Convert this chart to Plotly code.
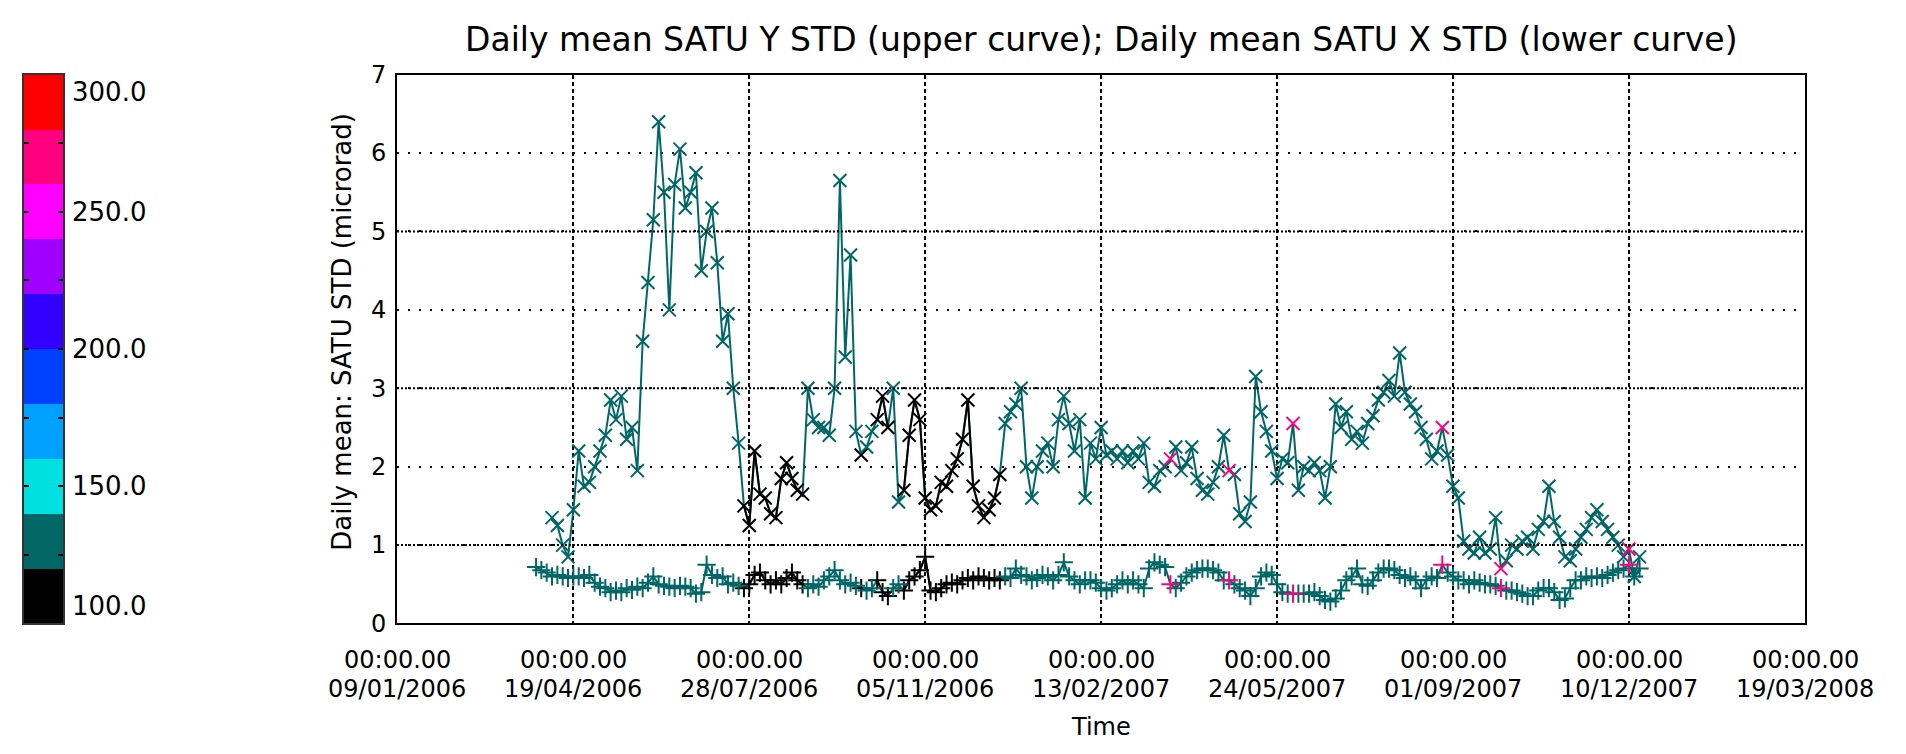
import pandas as pd
import plotly.graph_objects as go

# ---------------------------------------------------------------- data
# Daily mean STD of the SATU tilt signal, one value per sample date
first_sample = "2006-03-29"
last_sample = "2007-12-16"

satu_y_std = [
    None, None, None, 1.35, 1.25, 1.0, 0.85, 1.45, 2.2, 1.75,
    1.8, 2.0, 2.2, 2.4, 2.85, 2.6, 2.9, 2.35, 2.5, 1.95,
    3.6, 4.35, 5.15, 6.4, 5.5, 4.0, 5.6, 6.05, 5.3, 5.5,
    5.75, 4.5, 5.0, 5.3, 4.6, 3.6, 3.95, 3.0, 2.3, 1.5,
    1.25, 2.2, 1.65, 1.6, 1.4, 1.35, 1.85, 2.05, 1.85, 1.7,
    1.65, 3.0, 2.6, 2.5, 2.5, 2.4, 3.0, 5.65, 3.4, 4.7,
    2.45, 2.15, 2.25, 2.45, 2.6, 2.9, 2.5, 3.0, 1.55, 1.7,
    2.4, 2.85, 2.6, 1.6, 1.45, 1.5, 1.8, 1.75, 1.95, 2.1,
    2.35, 2.85, 1.75, 1.5, 1.35, 1.45, 1.6, 1.9, 2.55, 2.7,
    2.8, 3.0, 2.0, 1.6, 2.0, 2.2, 2.3, 2.0, 2.6, 2.9,
    2.55, 2.2, 2.6, 1.6, 2.3, 2.1, 2.5, 2.15, 2.2, 2.1,
    2.2, 2.05, 2.2, 2.1, 2.3, 1.8, 1.75, 1.95, 2.0, 2.1,
    2.25, 1.95, 2.05, 2.25, 1.85, 1.7, 1.65, 1.8, 2.0, 2.4,
    1.95, 1.9, 1.4, 1.3, 1.55, 3.15, 2.7, 2.45, 2.2, 1.85,
    2.1, 2.05, 2.55, 1.7, 2.0, 1.95, 2.05, 1.95, 1.6, 2.0,
    2.8, 2.5, 2.7, 2.35, 2.45, 2.3, 2.55, 2.65, 2.85, 2.95,
    3.1, 2.9, 3.45, 2.95, 2.8, 2.7, 2.5, 2.35, 2.1, 2.2,
    2.5, 2.15, 1.75, 1.6, 1.05, 0.95, 0.9, 1.1, 0.9, 0.95,
    1.35, 0.7, 0.8, 1.0, 0.95, 1.05, 1.1, 0.95, 1.2, 1.3,
    1.75, 1.3, 1.1, 0.85, 0.8, 0.95, 1.1, 1.2, 1.35, 1.45,
    1.3, 1.2, 1.1, 1.0, 0.85, 0.95, 0.6, 0.85,
]

satu_x_std = [
    0.72, 0.68, 0.65, 0.6, 0.62, 0.6, 0.58, 0.6, 0.6, 0.58,
    0.62, 0.52, 0.47, 0.45, 0.4, 0.42, 0.4, 0.45, 0.43, 0.47,
    0.45, 0.52, 0.6, 0.5, 0.48, 0.47, 0.45, 0.48, 0.47, 0.45,
    0.38, 0.4, 0.75, 0.62, 0.58, 0.6, 0.5, 0.52, 0.48, 0.45,
    0.5, 0.62, 0.65, 0.55, 0.5, 0.55, 0.5, 0.58, 0.65, 0.55,
    0.5, 0.45, 0.5, 0.47, 0.55, 0.6, 0.68, 0.55, 0.5, 0.52,
    0.48, 0.45, 0.42, 0.45, 0.55, 0.4, 0.35, 0.45, 0.5, 0.42,
    0.55, 0.6, 0.68, 0.85, 0.42, 0.4, 0.45, 0.5, 0.52, 0.5,
    0.55, 0.58, 0.55, 0.6, 0.58, 0.55, 0.58, 0.55, 0.6, 0.58,
    0.7, 0.62, 0.6, 0.55, 0.58, 0.62, 0.6, 0.55, 0.62, 0.78,
    0.6, 0.55, 0.5, 0.55, 0.55, 0.52, 0.45, 0.42, 0.45, 0.5,
    0.55, 0.5, 0.55, 0.5, 0.45, 0.7, 0.78, 0.75, 0.72, 0.5,
    0.45, 0.52, 0.6, 0.65, 0.68, 0.7, 0.7, 0.68, 0.65, 0.55,
    0.55, 0.5, 0.45, 0.42, 0.35, 0.45, 0.6, 0.65, 0.62, 0.5,
    0.4, 0.38, 0.38, 0.38, 0.38, 0.38, 0.4, 0.35, 0.3, 0.28,
    0.32, 0.42, 0.55, 0.6, 0.7, 0.5, 0.48, 0.55, 0.65, 0.7,
    0.7, 0.68, 0.62, 0.58, 0.6, 0.55, 0.45, 0.55, 0.6, 0.58,
    0.75, 0.65, 0.6, 0.55, 0.55, 0.5, 0.55, 0.52, 0.5, 0.5,
    0.48, 0.45, 0.42, 0.42, 0.4, 0.38, 0.35, 0.35, 0.42, 0.45,
    0.45, 0.4, 0.3, 0.32, 0.45, 0.55, 0.55, 0.6, 0.58, 0.6,
    0.58, 0.62, 0.65, 0.68, 0.7, 0.75, 0.6, 0.7,
]

# colour-coding quantity of each sample (same scale as the colour bar)
colour_value = [
    130, 130, 130, 130, 130, 130, 130, 130, 130, 130,
    130, 130, 130, 130, 130, 130, 130, 130, 130, 130,
    130, 130, 130, 130, 130, 130, 130, 130, 130, 130,
    130, 130, 130, 130, 130, 130, 130, 130, 130, 110,
    110, 110, 110, 110, 110, 110, 110, 110, 110, 110,
    110, 130, 130, 130, 130, 130, 130, 130, 130, 130,
    130, 110, 130, 130, 110, 110, 110, 130, 130, 110,
    110, 110, 110, 110, 110, 110, 110, 110, 110, 110,
    110, 110, 110, 110, 110, 110, 110, 110, 130, 130,
    130, 130, 130, 130, 130, 130, 130, 130, 130, 130,
    130, 130, 130, 130, 130, 130, 130, 130, 130, 130,
    130, 130, 130, 130, 130, 130, 130, 130, 130, 270,
    130, 130, 130, 130, 130, 130, 130, 130, 130, 130,
    270, 130, 130, 130, 130, 130, 130, 130, 130, 130,
    130, 130, 270, 130, 130, 130, 130, 130, 130, 130,
    130, 130, 130, 130, 130, 130, 130, 130, 130, 130,
    130, 130, 130, 130, 130, 130, 130, 130, 130, 130,
    270, 130, 130, 130, 130, 130, 130, 130, 130, 130,
    130, 270, 130, 130, 130, 130, 130, 130, 130, 130,
    130, 130, 130, 130, 130, 130, 130, 130, 130, 130,
    130, 130, 130, 130, 130, 270, 130, 130,
]

# colour bar: 10 bands of 20 units between 100 and 300
bar_min, bar_max, bar_step = 100, 300, 20
band_colours = ["#000000", "#006666", "#00e0e0", "#00a0ff", "#0040ff",
                "#3300ff", "#a000ff", "#ff00ff", "#ff0080", "#ff0000"]
bar_label_values = [100, 150, 200, 250, 300]
bar_tick_values = [125, 150, 175, 200, 225, 250, 275]

# time axis
time_ticks = ["2006-01-09", "2006-04-19", "2006-07-28", "2006-11-05", "2007-02-13",
              "2007-05-24", "2007-09-01", "2007-12-10", "2008-03-19"]
time_tick_labels = ["09/01/2006", "19/04/2006", "28/07/2006", "05/11/2006", "13/02/2007",
                    "24/05/2007", "01/09/2007", "10/12/2007", "19/03/2008"]
value_ticks = [0, 1, 2, 3, 4, 5, 6, 7]
dense_grid_values = [1, 3, 5]

# ---------------------------------------------------------------- layout helpers
W, H = 1906, 754
FONT = "DejaVu Sans"


def px_x(x):
    return x / W


def px_y(y):
    return 1 - y / H


plot_left, plot_right, plot_top, plot_bottom = 397, 1805, 63, 633
bar_left, bar_right = 24, 63

dates = pd.date_range(first_sample, last_sample, periods=len(satu_x_std))


def band_of(v):
    return int((v - bar_min) // bar_step)


fig = go.Figure()

series = [
    (satu_y_std, "x-thin"),
    (satu_x_std, "cross-thin"),
]
base_band = band_of(130)
base_colour = band_colours[base_band]
bands_used = sorted({band_of(v) for v in colour_value})

for values, symbol in series:
    # continuous line in the dominant colour
    fig.add_trace(go.Scatter(
        x=dates, y=values, mode="lines",
        line=dict(color=base_colour, width=2),
        hoverinfo="skip", showlegend=False))
    for b in bands_used:
        masked = [v if band_of(c) == b else None for v, c in zip(values, colour_value)]
        if b != base_band:
            fig.add_trace(go.Scatter(
                x=dates, y=masked, mode="lines",
                line=dict(color=band_colours[b], width=2),
                hoverinfo="skip", showlegend=False))
        fig.add_trace(go.Scatter(
            x=dates, y=masked, mode="markers",
            marker=dict(symbol=symbol, size=13,
                        line=dict(color=band_colours[b], width=2)),
            showlegend=False))

# colour bar drawn as a one-column heat map
band_centres = [bar_min + bar_step * (k + 0.5) for k in range(len(band_colours))]
scale = []
for k, c in enumerate(band_colours):
    scale.append([k / len(band_colours), c])
    scale.append([(k + 1) / len(band_colours), c])
fig.add_trace(go.Heatmap(
    x=[0], y=band_centres, z=[[v] for v in band_centres],
    zmin=bar_min, zmax=bar_max, colorscale=scale, showscale=False,
    xaxis="x2", yaxis="y2", hoverinfo="skip"))

axis_font = dict(family=FONT, size=24, color="black")

fig.update_layout(
    width=W, height=H, autosize=False,
    margin=dict(l=0, r=0, t=0, b=0),
    paper_bgcolor="white", plot_bgcolor="white",
    xaxis=dict(
        domain=[px_x(plot_left), px_x(plot_right)],
        type="date", range=[time_ticks[0], time_ticks[-1]],
        tickvals=time_ticks, showticklabels=False, ticks="",
        showgrid=True, gridcolor="black", gridwidth=2, griddash="4px,3px",
        showline=True, mirror=True, linecolor="black", linewidth=2,
        zeroline=False,
    ),
    yaxis=dict(
        domain=[px_y(plot_bottom), px_y(plot_top)],
        range=[0, 7], tickvals=value_ticks, ticks="",
        tickfont=axis_font, ticklabelstandoff=4,
        showgrid=True, gridcolor="black", gridwidth=2, griddash="2px,9px",
        showline=True, mirror=True, linecolor="black", linewidth=2,
        zeroline=False,
    ),
    xaxis2=dict(
        domain=[px_x(bar_left), px_x(bar_right)], anchor="y2",
        range=[-0.5, 0.5], showticklabels=False, ticks="", showgrid=False,
        showline=True, mirror=True, linecolor="#333333", linewidth=2, zeroline=False,
    ),
    yaxis2=dict(
        domain=[px_y(plot_bottom), px_y(plot_top)], anchor="x2",
        range=[bar_min, bar_max], tickvals=bar_tick_values, showticklabels=False,
        ticks="inside", ticklen=5, tickwidth=2, tickcolor="black",
        showgrid=False, showline=True, mirror="ticks", linecolor="#333333",
        linewidth=2, zeroline=False,
    ),
)

# denser dotted grid at the odd values
for v in dense_grid_values:
    fig.add_shape(type="line", xref="paper", yref="y",
                  x0=px_x(plot_left), x1=px_x(plot_right), y0=v, y1=v,
                  line=dict(color="black", width=2, dash="2px,2px"))

annotations = []
annotations.append(dict(
    text="Daily mean SATU Y STD (upper curve); Daily mean SATU X STD (lower curve)",
    xref="paper", yref="paper", x=px_x((plot_left + plot_right) / 2), y=px_y(27),
    xanchor="center", yanchor="middle", showarrow=False,
    font=dict(family=FONT, size=33, color="black")))
annotations.append(dict(
    text="Daily mean: SATU STD (microrad)", textangle=-90,
    xref="paper", yref="paper", x=px_x(342), y=px_y(330),
    xanchor="center", yanchor="middle", showarrow=False,
    font=dict(family=FONT, size=26, color="black")))
annotations.append(dict(
    text="Time", xref="paper", yref="paper",
    x=px_x((plot_left + plot_right) / 2), y=px_y(741),
    xanchor="center", yanchor="middle", showarrow=False, font=axis_font))
for t, lab in zip(time_ticks, time_tick_labels):
    annotations.append(dict(text="00:00.00", xref="x", yref="paper", x=t, y=px_y(671),
                            xanchor="center", yanchor="middle", showarrow=False,
                            font=axis_font))
    annotations.append(dict(text=lab, xref="x", yref="paper", x=t, y=px_y(701),
                            xanchor="center", yanchor="middle", showarrow=False,
                            font=axis_font))
for v in bar_label_values:
    anchor = "top" if v == bar_max else ("bottom" if v == bar_min else "middle")
    annotations.append(dict(text=f"{v:.1f}", xref="paper", yref="y2",
                            x=px_x(bar_right + 7), y=v, xanchor="left", yanchor=anchor,
                            showarrow=False, font=dict(family=FONT, size=26, color="black")))
fig.update_layout(annotations=annotations)

fig.write_html("out.html")
